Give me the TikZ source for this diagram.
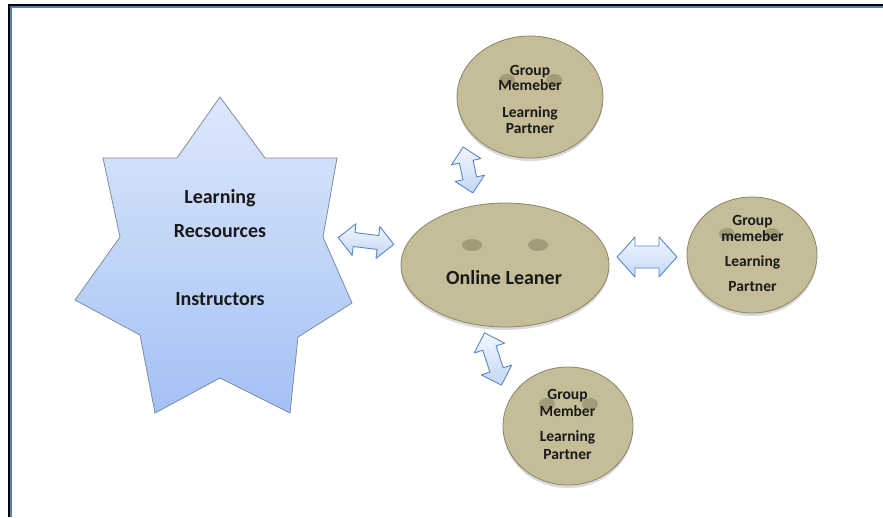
\documentclass[tikz,border=0pt]{standalone}
\usepackage{fontspec}
\setmainfont{Carlito}
\usetikzlibrary{shapes.geometric,shadows}
\definecolor{facefill}{HTML}{C4BD97}
\definecolor{faceline}{HTML}{8A8468}
\definecolor{eyecol}{HTML}{A29B79}
\definecolor{startop}{HTML}{DDE8FC}
\definecolor{starbot}{HTML}{A3C1F4}
\definecolor{starline}{HTML}{7D8CA3}
\definecolor{arrtop}{HTML}{F2F6FE}
\definecolor{arrbot}{HTML}{C3D7F5}
\definecolor{arrline}{HTML}{5A87C6}
\definecolor{frameblue}{HTML}{4F81BD}
\newcommand\dblarr[7]{%
\begin{scope}[shift={(#1,#2)},rotate=#3]
\draw[arrowsty] (-#4/2,0) -- (-#4/2+#7,#5/2) -- (-#4/2+#7,#6/2) -- (#4/2-#7,#6/2) -- (#4/2-#7,#5/2) -- (#4/2,0)
 -- (#4/2-#7,-#5/2) -- (#4/2-#7,-#6/2) -- (-#4/2+#7,-#6/2) -- (-#4/2+#7,-#5/2) -- cycle;
\end{scope}}
\begin{document}
\begin{tikzpicture}[x=1pt,y=-1pt,
  face/.style={ellipse,draw=faceline,line width=0.8pt,fill=facefill,inner sep=0pt,
    drop shadow={shadow xshift=0pt,shadow yshift=-3pt,opacity=0.3}},
  eye/.style={ellipse,fill=eyecol,inner sep=0pt,minimum width=20pt,minimum height=12pt},
  smalleye/.style={eye,minimum width=16pt,minimum height=12pt},
  bigtxt/.style={font=\fontsize{20}{24}\selectfont\bfseries,anchor=base,inner sep=0pt,text=black!90},
  smalltxt/.style={font=\fontsize{15.5}{19}\selectfont\bfseries,anchor=base,inner sep=0pt,text=black!90},
  arrowsty/.style={draw=arrline,line width=0.9pt,top color=arrtop,bottom color=arrbot,line join=round}]
\useasboundingbox (0,0) rectangle (883,517);
% frame
\draw[frameblue,line width=1.6pt] (10.8,517) -- (10.8,6.8) -- (883,6.8);
\draw[black,line width=2.6pt] (9,517) -- (9,5) -- (883,5);
% star
\draw[starline,line width=0.8pt,top color=startop,bottom color=starbot,line join=miter]
 (220,97) -- (265,158) -- (337,158) -- (323,237) -- (352,303) -- (298,337) -- (290,413)
 -- (220,378) -- (155,413) -- (140,335) -- (75,300) -- (120,237) -- (103,158) -- (177,158) -- cycle;
\node[bigtxt] (lr1) at (220,203) {Learning};
\node[bigtxt] (lr2) at (220,237) {Recsources};
\node[bigtxt] (lr3) at (220,305) {Instructors};
% learner
\node[face,minimum width=208pt,minimum height=124pt] (learner) at (505,265) {};
\node[eye] (le1) at (472,245) {};
\node[eye] (le2) at (538,245) {};
\node[bigtxt] (lt) at (504,284) {Online Leaner};
% top member
\node[face,minimum width=146pt,minimum height=122pt] (gtop) at (530,97) {};
\node[smalleye] (te1) at (507,80) {};
\node[smalleye] (te2) at (554,80) {};
\node[smalltxt] (t1) at (530,75) {Group};
\node[smalltxt] (t2) at (530,90.7) {Memeber};
\node[smalltxt] (t3) at (530,117.7) {Learning};
\node[smalltxt] (t4) at (530,133.3) {Partner};
% right member
\node[face,minimum width=130pt,minimum height=116pt] (gright) at (752,255) {};
\node[smalleye] (re1) at (727,234) {};
\node[smalleye] (re2) at (772,234) {};
\node[smalltxt] (r1) at (752.5,225) {Group};
\node[smalltxt] (r2) at (752.5,241) {memeber};
\node[smalltxt] (r3) at (752.5,266.7) {Learning};
\node[smalltxt] (r4) at (752.5,291.7) {Partner};
% bottom member
\node[face,minimum width=130pt,minimum height=118pt] (gbot) at (568,426) {};
\node[smalleye] (be1) at (547,404) {};
\node[smalleye] (be2) at (590,404) {};
\node[smalltxt] (b1) at (567.5,399) {Group};
\node[smalltxt] (b2) at (567.5,416.7) {Member};
\node[smalltxt] (b3) at (567.5,441.7) {Learning};
\node[smalltxt] (b4) at (567.5,459.3) {Partner};
% block arrows
\dblarr{366}{241}{-7}{56}{32}{14}{16}
\dblarr{468}{170}{-78}{47}{30}{14}{15}
\dblarr{647}{257}{0}{60}{40}{22}{18}
\dblarr{493}{359}{-72}{55}{32}{14}{16}
\end{tikzpicture}
\end{document}
